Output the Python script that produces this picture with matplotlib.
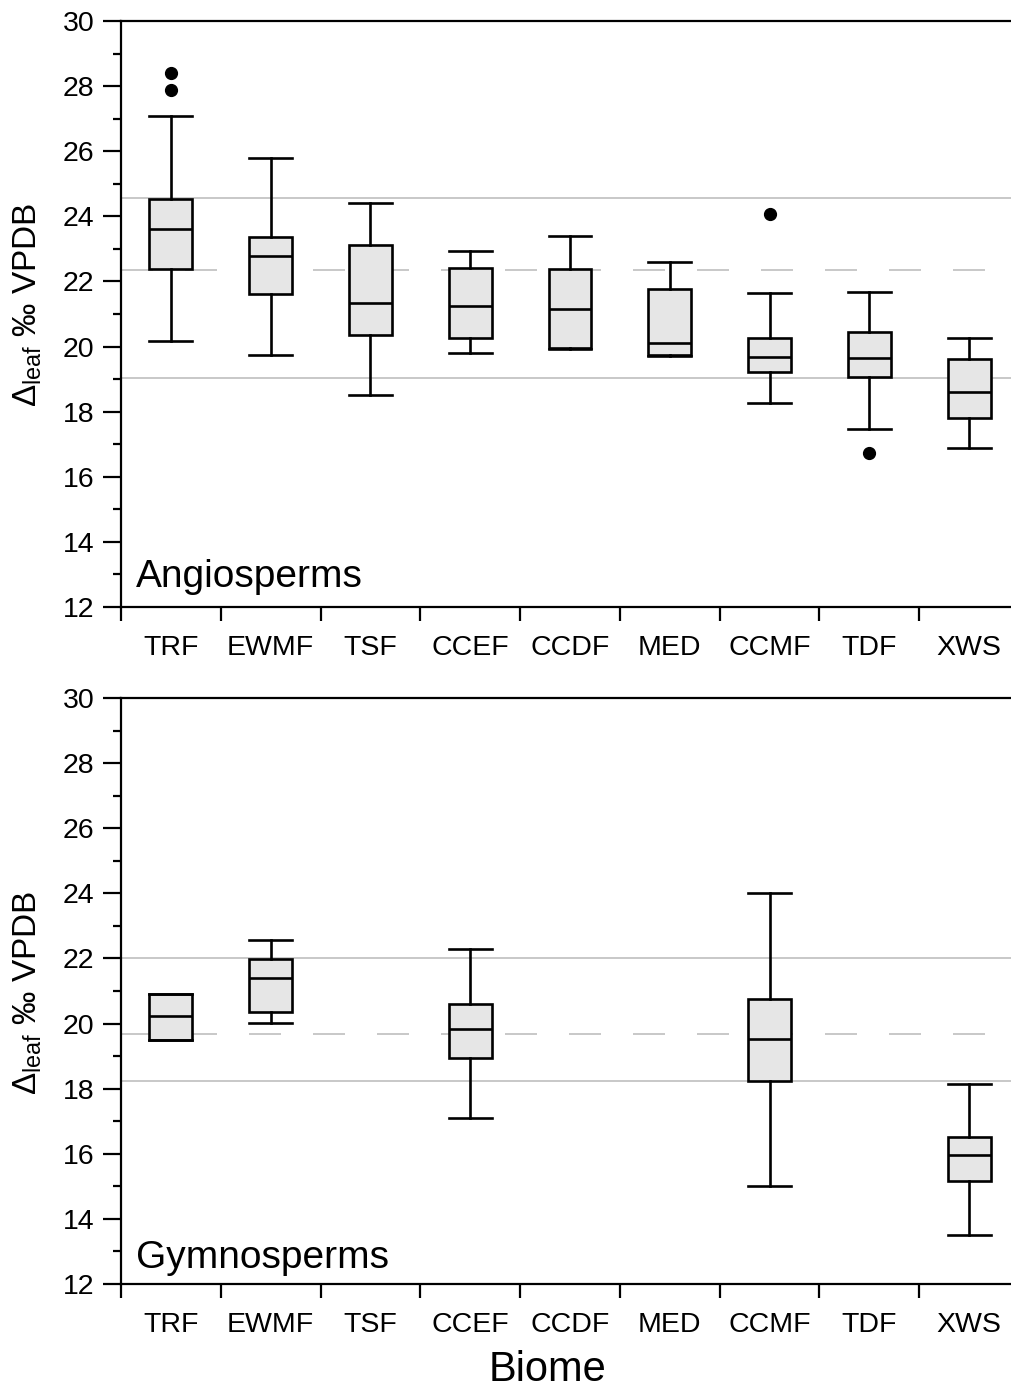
import matplotlib
matplotlib.use('Agg')
import numpy as np
import matplotlib.pyplot as plt
from matplotlib.ticker import MultipleLocator

plt.rcParams['font.family'] = ['Liberation Sans', 'DejaVu Sans']
plt.rcParams['mathtext.fontset'] = 'custom'
plt.rcParams['mathtext.rm'] = 'Liberation Sans'
plt.rcParams['mathtext.it'] = 'Liberation Sans:italic'
plt.rcParams['lines.scale_dashes'] = False

# ---------------- data ----------------
biomes = ['TRF', 'EWMF', 'TSF', 'CCEF', 'CCDF', 'MED', 'CCMF', 'TDF', 'XWS']

angio_whislo = [20.17, 19.75, 18.50, 19.79, 19.91, 19.70, 18.28, 17.47, 16.87]
angio_q1     = [22.38, 21.60, 20.37, 20.27, 19.97, 19.73, 19.22, 19.07, 17.80]
angio_med    = [23.60, 22.78, 21.34, 21.24, 21.15, 20.12, 19.69, 19.66, 18.59]
angio_q3     = [24.52, 23.37, 23.13, 22.40, 22.38, 21.76, 20.27, 20.45, 19.63]
angio_whishi = [27.07, 25.79, 24.41, 22.93, 23.41, 22.61, 21.64, 21.68, 20.27]
angio_fliers = [[28.39, 27.87], [], [], [], [], [], [24.08], [16.74], []]
angio_ref_upper = 24.55
angio_ref_mean = 22.36
angio_ref_lower = 19.03

gymno_biomes = ['TRF', 'EWMF', 'CCEF', 'CCMF', 'XWS']
gymno_whislo = [19.49, 20.01, 17.09, 15.00, 13.50]
gymno_q1     = [19.49, 20.36, 18.93, 18.25, 15.17]
gymno_med    = [20.22, 21.39, 19.83, 19.54, 15.96]
gymno_q3     = [20.92, 21.98, 20.61, 20.75, 16.50]
gymno_whishi = [20.92, 22.58, 22.30, 24.02, 18.13]
gymno_fliers = [[], [], [], [], []]
gymno_ref_upper = 22.01
gymno_ref_mean = 19.69
gymno_ref_lower = 18.24

yticks_major = [12, 14, 16, 18, 20, 22, 24, 26, 28, 30]

# ---------------- figure ----------------
W, H = 1011, 1387
fig = plt.figure(figsize=(W / 100, H / 100), dpi=100)

ax_left = 121 / W
ax_width = (1019 - 121) / W
ax_top = fig.add_axes([ax_left, (H - 607) / H, ax_width, 586 / H])
ax_bot = fig.add_axes([ax_left, (H - 1284) / H, ax_width, 586 / H])

LW = 1.9
GRAY_FILL = '#e6e6e6'
REF_COLOR = '#c8c8c8'


def draw_panel(ax, cats, whislo, q1, med, q3, whishi, fliers, refs, name, name_y):
    stats = []
    for i in range(len(cats)):
        stats.append(dict(whislo=whislo[i], q1=q1[i], med=med[i], q3=q3[i],
                          whishi=whishi[i], fliers=fliers[i]))
    positions = [biomes.index(c) for c in cats]
    upper, mean, lower = refs
    ax.axhline(upper, color=REF_COLOR, lw=1.4, zorder=1)
    ax.axhline(lower, color=REF_COLOR, lw=1.4, zorder=1)
    ax.axhline(mean, color=REF_COLOR, lw=1.4, zorder=1,
               linestyle=(0, (23.04, 23.04)), dash_capstyle='butt')
    ax.bxp(stats, positions=positions, widths=0.43, capwidths=0.43,
           patch_artist=True, manage_ticks=False,
           boxprops=dict(facecolor=GRAY_FILL, edgecolor='black', linewidth=LW),
           whiskerprops=dict(color='black', linewidth=LW),
           capprops=dict(color='black', linewidth=LW),
           medianprops=dict(color='black', linewidth=LW),
           flierprops=dict(marker='o', markerfacecolor='black',
                           markeredgecolor='black', markersize=8.5))
    ax.set_xlim(-0.5, len(biomes) - 0.5)
    ax.set_ylim(12, 30)
    ax.spines['right'].set_visible(False)
    for s in ['left', 'bottom', 'top']:
        ax.spines[s].set_linewidth(1.6)
    ax.set_yticks(yticks_major)
    ax.yaxis.set_minor_locator(MultipleLocator(1))
    ax.tick_params(axis='y', which='major', direction='out', length=13,
                   width=1.6, labelsize=20.5, pad=6)
    ax.tick_params(axis='y', which='minor', direction='out', length=5.5,
                   width=1.6)
    ax.set_xticks(np.arange(-0.5, len(biomes), 1.0))
    ax.set_xticklabels([])
    ax.set_xticks(np.arange(len(biomes)), minor=True)
    ax.set_xticklabels(biomes, minor=True)
    ax.tick_params(axis='x', which='major', direction='out', length=10,
                   width=1.6)
    ax.tick_params(axis='x', which='minor', length=0, labelsize=20.5, pad=20)
    ax.text(-0.35, name_y, name, fontsize=28, ha='left', va='baseline')


draw_panel(ax_top, biomes, angio_whislo, angio_q1, angio_med, angio_q3,
           angio_whishi, angio_fliers,
           (angio_ref_upper, angio_ref_mean, angio_ref_lower),
           'Angiosperms', 12.6)
draw_panel(ax_bot, gymno_biomes, gymno_whislo, gymno_q1, gymno_med, gymno_q3,
           gymno_whishi, gymno_fliers,
           (gymno_ref_upper, gymno_ref_mean, gymno_ref_lower),
           'Gymnosperms', 12.5)

ylab = r'$\mathrm{Δ}_{\mathrm{leaf}}$ ‰ VPDB'
for y_px in (407, 1095):
    fig.text(37 / W, 1 - y_px / H, ylab, fontsize=24, rotation=90,
             ha='left', va='baseline', rotation_mode='anchor')

fig.text(548 / W, (H - 1381) / H, 'Biome', fontsize=30, ha='center',
         va='baseline')

fig.savefig('out.png', dpi=100)
